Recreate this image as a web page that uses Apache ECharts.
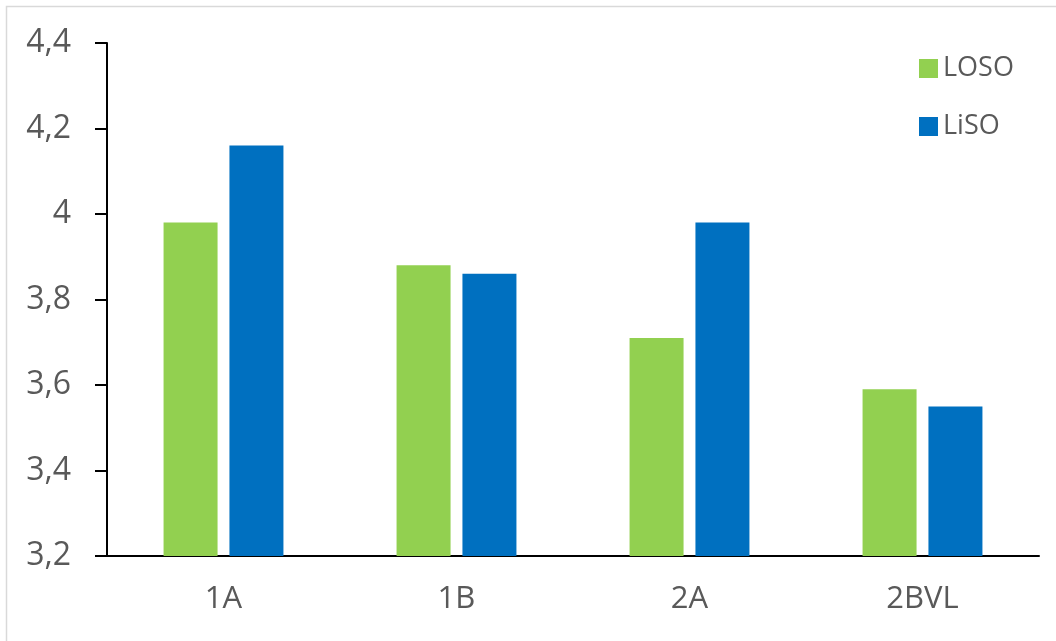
<!DOCTYPE html>
<html>
<head>
<meta charset="utf-8">
<style>
  html, body { margin: 0; padding: 0; background: #fff; }
  #chart { width: 1056px; height: 641px; }
</style>
<script src="https://cdn.jsdelivr.net/npm/echarts@6/dist/echarts.min.js"></script>
</head>
<body>
<div id="chart"></div>
<script>
// 数据
const categories = ['1A', '1B', '2A', '2BVL'];
const losoValues = [3.98, 3.88, 3.71, 3.59];
const lisoValues = [4.16, 3.86, 3.98, 3.55];
const yTicks = [3.2, 3.4, 3.6, 3.8, 4, 4.2, 4.4];

window.addEventListener('DOMContentLoaded', function() {
    initChart();
});

function initChart() {
    const chartDom = document.getElementById('chart');
    const myChart = echarts.init(chartDom);
    const font = '"Open Sans", sans-serif';

    const option = {
        backgroundColor: '#fff',
        animation: false,
        textStyle: { fontFamily: font },
        graphic: [
            {
                // 外框
                type: 'rect',
                shape: { x: 6.5, y: 6.5, width: 1200, height: 800 },
                style: { fill: 'none', stroke: '#d9d9d9', lineWidth: 1.5 },
                silent: true
            }
        ],
        legend: {
            orient: 'vertical',
            left: 914,
            top: 50,
            itemWidth: 19,
            itemHeight: 19,
            itemGap: 31,
            icon: 'rect',
            textStyle: { color: '#595959', fontSize: 27, fontFamily: font },
            data: ['LOSO', 'LiSO']
        },
        grid: {
            left: 107,
            right: 17,
            top: 43,
            bottom: 85
        },
        xAxis: {
            type: 'category',
            data: categories,
            axisLine: { lineStyle: { color: '#000', width: 2 } },
            axisTick: { show: false },
            axisLabel: { color: '#595959', fontSize: 31, margin: 28, fontFamily: font }
        },
        yAxis: {
            type: 'value',
            min: yTicks[0],
            max: yTicks[yTicks.length - 1],
            interval: 0.2,
            axisLine: { show: true, lineStyle: { color: '#000', width: 2 } },
            axisTick: { show: true, inside: false, length: 12, lineStyle: { color: '#000', width: 2 } },
            splitLine: { show: false },
            axisLabel: {
                color: '#595959',
                fontSize: 32,
                margin: 36,
                fontFamily: font,
                formatter: function(v) {
                    return String(Math.round(v * 10) / 10).replace('.', ',');
                }
            }
        },
        series: [
            {
                name: 'LOSO',
                type: 'bar',
                data: losoValues,
                barWidth: 54,
                barGap: '22%',
                itemStyle: { color: '#92D050' }
            },
            {
                name: 'LiSO',
                type: 'bar',
                data: lisoValues,
                barWidth: 54,
                itemStyle: { color: '#0070C0' }
            }
        ]
    };

    myChart.setOption(option);
    window.addEventListener('resize', () => myChart.resize());
}
</script>
</body>
</html>
